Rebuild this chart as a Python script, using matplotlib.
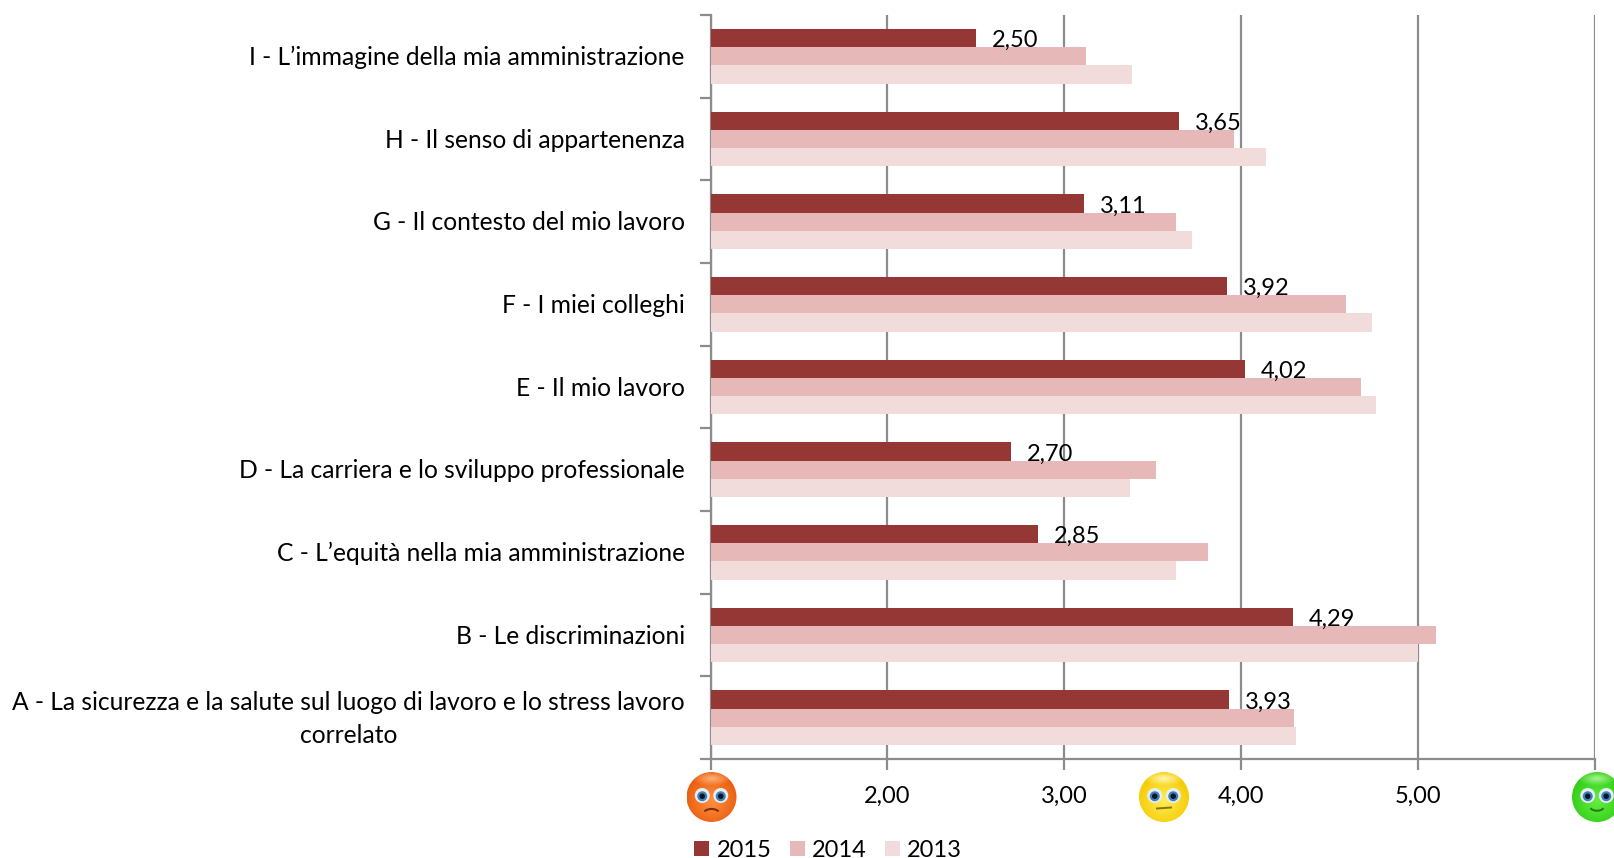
import numpy as np
import matplotlib
matplotlib.use('Agg')
import matplotlib.pyplot as plt
from matplotlib.colors import to_rgb
from matplotlib.patches import Circle, Arc
from matplotlib.transforms import ScaledTranslation

plt.rcParams['font.family'] = ['Lato', 'DejaVu Sans']

categorie = ['A - La sicurezza e la salute sul luogo di lavoro e lo stress lavoro\ncorrelato',
             'B - Le discriminazioni',
             'C - L\u2019equit\u00e0 nella mia amministrazione',
             'D - La carriera e lo sviluppo professionale',
             'E - Il mio lavoro',
             'F - I miei colleghi',
             'G - Il contesto del mio lavoro',
             'H - Il senso di appartenenza',
             'I - L\u2019immagine della mia amministrazione']
v2015 = [3.93, 4.29, 2.85, 2.70, 4.02, 3.92, 3.11, 3.65, 2.50]
v2014 = [4.30, 5.10, 3.81, 3.52, 4.68, 4.59, 3.63, 3.96, 3.12]
v2013 = [4.31, 5.00, 3.63, 3.37, 4.76, 4.74, 3.72, 4.14, 3.38]
anni = ['2015', '2014', '2013']
colori = ['#953735', '#E6B9B8', '#F2DCDB']
xticks = [1, 2, 3, 4, 5, 6]
xlabels = ['', '2,00', '3,00', '4,00', '5,00', '']

W, H = 1614, 858
grigio = '#8C8C8C'
fs = 17

fig = plt.figure(figsize=(W / 100, H / 100), dpi=100)
ax = fig.add_axes([710.5 / W, 1 - 759 / H, (1595 - 710.5) / W, (759 - 15) / H])

y = np.arange(len(categorie))
h = 0.22
ax.barh(y + h, v2015, h, color=colori[0], label=anni[0], zorder=3)
ax.barh(y, v2014, h, color=colori[1], label=anni[1], zorder=3)
ax.barh(y - h, v2013, h, color=colori[2], label=anni[2], zorder=3)

for yi, v in zip(y, v2015):
    ax.text(v + 0.09, yi + h / 2, ('%.2f' % v).replace('.', ','), va='baseline', ha='left',
            fontsize=fs, color='black', zorder=4)

ax.set_xlim(1, 6)
ax.set_ylim(-0.5, 8.5)
ax.set_xticks(xticks)
ax.set_xticklabels(xlabels, fontsize=fs)
ax.set_yticks(y)
ax.set_yticklabels(categorie, fontsize=17.7, multialignment='center', linespacing=1.55)
ax.set_yticks(np.arange(-0.5, 9, 1), minor=True)
ax.tick_params(axis='y', which='major', length=0, pad=18.5)
ax.tick_params(axis='y', which='minor', length=8, width=1.6, color=grigio)
ax.tick_params(axis='x', length=8, width=1.6, color=grigio, pad=11)
ax.grid(axis='x', color=grigio, linewidth=1.6, zorder=1)
ax.set_axisbelow(True)
for s in ['top', 'right']:
    ax.spines[s].set_visible(False)
for s in ['left', 'bottom']:
    ax.spines[s].set_color(grigio)
    ax.spines[s].set_linewidth(1.6)

# etichette un po' piu in alto, la prima (due righe) di piu
for i, lab in enumerate(ax.get_yticklabels()):
    su = 6 if i == 0 else 1
    lab.set_transform(lab.get_transform() + ScaledTranslation(0, su / 100, fig.dpi_scale_trans))

fig.legend(loc='lower left', bbox_to_anchor=(673 / W, -24 / H), ncol=3, frameon=False, fontsize=fs,
           handlelength=0.64, handleheight=0.64, handletextpad=0.3, columnspacing=0.78)

# faccine sotto l'asse, in pixel
ov = fig.add_axes([0, 0, 1, 1], zorder=5)
ov.axis('off')


def faccina(cx, cy, r, bordo, centro, alto, bocca, tipo):
    yy, xx = np.mgrid[-1:1:120j, -1:1:120j]
    d = np.clip(np.sqrt(xx ** 2 + (yy - 0.15) ** 2) / 1.15, 0, 1)[..., None]
    img = np.array(to_rgb(centro)) * (1 - d) + np.array(to_rgb(bordo)) * d
    # riflesso chiaro in alto
    t = np.clip(1 - np.sqrt((xx / 0.8) ** 2 + ((yy + 0.75) / 0.3) ** 2), 0, 1)[..., None]
    img = img * (1 - t) + np.array(to_rgb(alto)) * t
    im = ov.imshow(img, extent=[cx - r, cx + r, cy + r, cy - r], zorder=1, aspect='auto')
    im.set_clip_path(Circle((cx, cy), r, transform=ov.transData))
    for dx in [-0.37, 0.37]:
        ov.add_patch(Circle((cx + dx * r, cy - 0.06 * r), 0.3 * r, fc='#E4EEF5', ec='none', zorder=2))
        ov.add_patch(Circle((cx + dx * r, cy - 0.03 * r), 0.2 * r, fc='#3F7FB5', ec='none', zorder=3))
        ov.add_patch(Circle((cx + dx * r, cy - 0.03 * r), 0.11 * r, fc='#0A1626', ec='none', zorder=4))
    if tipo > 0:
        ov.add_patch(Arc((cx, cy + 0.35 * r), 0.6 * r, 0.4 * r, theta1=20, theta2=160, color=bocca, lw=1.4, zorder=4))
    elif tipo < 0:
        ov.add_patch(Arc((cx, cy + 0.68 * r), 0.66 * r, 0.4 * r, theta1=200, theta2=340, color=bocca, lw=1.5, zorder=4))
    else:
        ov.plot([cx - 0.28 * r, cx + 0.28 * r], [cy + 0.46 * r, cy + 0.42 * r], color=bocca, lw=1.4, zorder=4)


faccina(711.5, 797, 25, '#E95A0C', '#FF9140', '#FFB27A', '#7A3010', -1)
faccina(1164, 797, 25, '#F5C800', '#FFEE55', '#FFF7B0', '#8A7410', 0)
faccina(1597, 797, 25, '#2ECC14', '#66EE44', '#A8F590', '#1F7A10', 1)
ov.set_xlim(0, W)
ov.set_ylim(H, 0)

fig.savefig('out.png', dpi=100)
